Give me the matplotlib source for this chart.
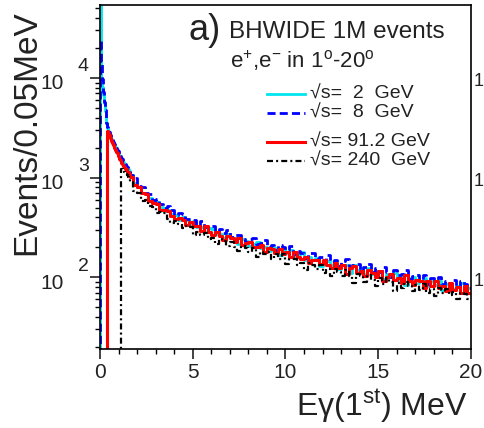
import numpy as np
import matplotlib
matplotlib.use("Agg")
import matplotlib.pyplot as plt
import matplotlib.transforms as mtransforms
from matplotlib.ticker import MultipleLocator, NullFormatter

plt.rcParams['font.family'] = ['Liberation Sans', 'DejaVu Sans']
plt.rcParams['mathtext.fontset'] = 'custom'
plt.rcParams['mathtext.rm'] = 'Liberation Sans'
plt.rcParams['mathtext.it'] = 'Liberation Sans:italic'

# binning: 0.05 MeV up to 1.6 MeV, 0.2 MeV above
fine_edges = np.round(np.arange(0, 1.6001, 0.05), 3)
tail_edges = np.round(np.arange(1.8, 20.0001, 0.2), 3)
edges = np.concatenate([fine_edges, tail_edges])

# sqrt(s) = 2 GeV
cyan_fine = [80000, 9500, 8200, 6800, 5600, 4700, 4000, 3500, 3150, 2900, 2720, 2580, 2450, 2330,
             2220, 2120, 2020, 1930, 1850, 1770, 1700, 1640, 1580, 1520, 1470, 1420, 1370, 1330,
             1290, 1250, 1210, 1170]
cyan_tail = [1071, 873, 806, 697, 687, 630, 558, 573, 505, 458,
             475, 435, 422, 373, 399, 377, 338, 363, 320, 318,
             284, 308, 303, 269, 274, 249, 274, 245, 248, 216,
             241, 233, 205, 217, 228, 198, 202, 182, 203, 194,
             167, 190, 173, 187, 162, 167, 177, 148, 158, 147,
             157, 130, 147, 146, 132, 145, 122, 131, 132, 110,
             131, 117, 119, 107, 125, 107, 111, 114, 96, 108,
             100, 110, 94, 103, 84, 97, 100, 88, 91, 99,
             82, 91, 83, 92, 75, 85, 86, 76, 81, 87,
             72, 78]

# sqrt(s) = 8 GeV
blue_fine = [24000, 14000, 9800, 7200, 5800, 4800, 4100, 3550, 3250, 3000, 2850, 2700, 2530, 2420,
             2300, 2180, 2080, 1990, 1900, 1830, 1750, 1690, 1630, 1570, 1520, 1460, 1410, 1370,
             1320, 1280, 1240, 1190]
blue_tail = [1060, 985, 822, 812, 702, 679, 590, 611, 545, 499,
             514, 474, 421, 437, 432, 383, 381, 377, 328, 364,
             317, 323, 328, 285, 303, 277, 298, 252, 267, 267,
             241, 225, 243, 248, 217, 221, 236, 201, 210, 188,
             210, 200, 186, 206, 172, 184, 174, 155, 176, 176,
             152, 158, 142, 166, 143, 149, 128, 145, 153, 128,
             132, 137, 116, 127, 134, 113, 124, 112, 127, 113,
             100, 117, 104, 108, 118, 95, 102, 105, 93, 104,
             86, 98, 93, 101, 85, 91, 84, 94, 79, 92,
             85, 77]

# sqrt(s) = 91.2 GeV, starts at 0.40 MeV
red_fine = [2950, 2790, 2650, 2470, 2350, 2210, 2100, 1980, 1910, 1800, 1750, 1650, 1610, 1520,
            1490, 1410, 1380, 1320, 1290, 1230, 1210, 1150, 1130, 1080]
red_tail = [1010, 839, 806, 698, 680, 582, 558, 546, 470, 473,
            462, 414, 386, 397, 373, 334, 359, 326, 327, 291,
            323, 281, 267, 285, 261, 236, 257, 245, 227, 246,
            210, 219, 223, 199, 201, 212, 178, 196, 190, 174,
            190, 172, 179, 158, 179, 160, 151, 161, 139, 149,
            147, 134, 148, 133, 123, 139, 123, 131, 107, 125,
            129, 110, 114, 102, 117, 111, 100, 115, 92, 101,
            107, 94, 99, 88, 104, 91, 83, 94, 91, 77,
            91, 81, 91, 77, 81, 73, 87, 74, 79, 70,
            81, 70]

# sqrt(s) = 240 GeV, starts at 1.15 MeV
black_fine = [1210, 1230, 1190, 1150, 1120, 1080, 1050, 1010, 980]
black_tail = [900, 733, 698, 585, 600, 524, 512, 440, 446, 437,
              380, 346, 368, 340, 309, 323, 319, 267, 285, 262,
              279, 240, 248, 216, 239, 231, 205, 228, 203, 181,
              207, 195, 179, 195, 158, 179, 170, 177, 151, 169,
              153, 169, 135, 151, 152, 131, 138, 117, 139, 132,
              121, 133, 110, 121, 102, 122, 113, 103, 119, 102,
              87, 107, 103, 90, 105, 93, 82, 98, 85, 99,
              89, 73, 87, 77, 89, 82, 72, 83, 75, 85,
              70, 76, 64, 77, 69, 76, 66, 71, 60, 70,
              67, 60]

labels = ["\u221as=  2  GeV", "\u221as=  8  GeV", "\u221as= 91.2 GeV", "\u221as= 240  GeV"]
decades = [1e2, 1e3, 1e4]
exps = ["2", "3", "4"]

W, H = 485, 428
fig = plt.figure(figsize=(W / 100, H / 100), dpi=100)
ax = fig.add_axes([100 / W, 1 - 349 / H, 371 / W, 344 / H])


def px(x, y):
    return x / W, 1 - y / H


def draw_hist(start, vals, **kw):
    x = edges[start:]
    x = np.concatenate([[x[0]], x])
    y = np.concatenate([[1.0], vals, [vals[-1]]])
    ax.plot(x, y, drawstyle='steps-post', **kw)


styles = [
    dict(color='#00e5ee', lw=2.0),
    dict(color='#0000ff', lw=2.0, ls=(0, (2.9, 1.5))),
    dict(color='#ff0000', lw=2.2),
    dict(color='black', lw=1.6, ls=(0, (2.7, 1.4, 0.9, 1.4))),
]

draw_hist(0, cyan_fine + cyan_tail, **styles[0])
draw_hist(0, blue_fine + blue_tail, **styles[1])
draw_hist(8, red_fine + red_tail, **styles[2])
draw_hist(23, black_fine + black_tail, **styles[3])

ax.set_yscale('log')
ax.set_xlim(0, 20)
ax.set_ylim(19, 54000)
ax.set_xticks([0, 5, 10, 15, 20])
ax.xaxis.set_minor_locator(MultipleLocator(1))
ax.set_yticks(decades, ["10"] * 3)
ax.yaxis.set_minor_formatter(NullFormatter())
ax.tick_params(which='major', direction='out', length=7, width=1.2, labelsize=15, colors='#222222')
ax.tick_params(which='minor', direction='out', length=3.5, width=1.0)
ax.tick_params(axis='y', pad=19)
ax.tick_params(axis='x', pad=3)
for s in ax.spines.values():
    s.set_linewidth(1.2)

off = mtransforms.ScaledTranslation(0, -0.04, fig.dpi_scale_trans)
for lab in ax.get_yticklabels():
    lab.set_transform(lab.get_transform() + off)

for d, e in zip(decades, exps):
    ax.annotate(e, xy=(0, d), xycoords=('axes fraction', 'data'), xytext=(-22, 11),
                textcoords='offset pixels', ha='left', va='center', fontsize=14, color='#222222',
                annotation_clip=False)
    # right-hand labels, only the first digit fits inside the picture
    ax.annotate("1", xy=(1, d), xycoords=('axes fraction', 'data'), xytext=(3, -4),
                textcoords='offset pixels', ha='left', va='center', fontsize=13, color='#222222',
                annotation_clip=False)

fig.text(*px(27, 133), "Events/0.05MeV", rotation=90, ha='center', va='center', fontsize=24, color='#222222')
fig.text(*px(468, 406), "E\u03b3(1$^{\\rm st}$) MeV", ha='right', va='center', fontsize=23, color='#222222')

fig.text(*px(189, 31), "a)", ha='left', va='center', fontsize=26, color='#222222')
fig.text(*px(229, 32), "BHWIDE 1M events", ha='left', va='center', fontsize=17.5, color='#222222')
fig.text(*px(230, 61), r"e$^{+}$,e$^{-}$ in 1$^{\rm o}$-20$^{\rm o}$", ha='left', va='center',
         fontsize=16, color='#222222')

rows = [94, 113, 142, 161]
for lab, y, st in zip(labels, rows, styles):
    fig.add_artist(plt.Line2D([267 / W, 305 / W], [1 - y / H, 1 - y / H], **st))
    fig.text(*px(310, y), lab, ha='left', va='center', fontsize=14, color='#222222')

fig.savefig("out.png", dpi=100)
